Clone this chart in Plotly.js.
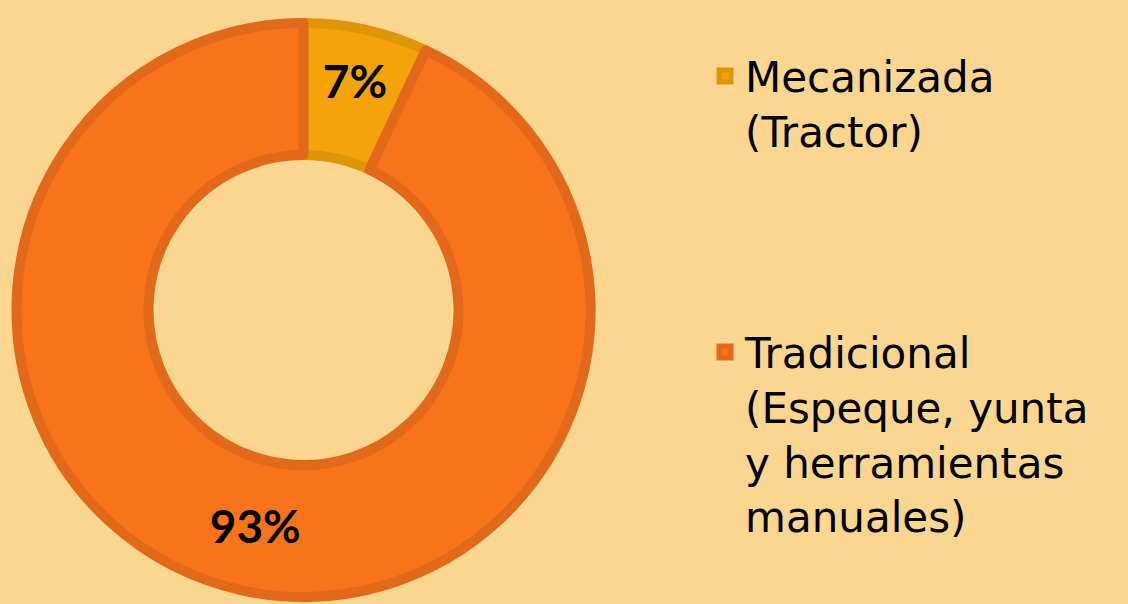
<!DOCTYPE html>
<html><head><meta charset="utf-8">
<script src="https://cdn.plot.ly/plotly-3.0.1.min.js"></script>
<style>html,body{margin:0;padding:0;background:#FAD691;}</style>
</head><body>
<div id="chart" style="width:1128px;height:604px;"></div>
<script>
const categories = ["Mecanizada<br>(Tractor)<br> <br> <br> ", "Tradicional<br>(Espeque, yunta<br>y herramientas<br>manuales)"];
const values = [7, 93];
const fillColors = ["#F4A30A", "#F8731A"];
const lineColors = ["#DE9508", "#E2681A"];

const data = [{
  type: "pie",
  labels: categories,
  values: values,
  hole: 0.54,
  sort: false,
  direction: "clockwise",
  rotation: 0,
  textinfo: "percent",
  texttemplate: "%{percent:.0%}",
  textposition: "inside",
  insidetextorientation: "horizontal",
  textfont: {family: "Lato, 'DejaVu Sans', sans-serif", size: 46, color: "#000", weight: "bold"},
  marker: {colors: fillColors, line: {color: lineColors, width: 10}},
  domain: {x: [15/1128, 592/1128], y: [7/604, 581/604]},
  hoverinfo: "label+percent"
}];

const layout = {
  width: 1128, height: 604,
  margin: {l: 0, r: 0, t: 0, b: 0},
  paper_bgcolor: "#FAD691",
  plot_bgcolor: "#FAD691",
  showlegend: true,
  legend: {
    x: 0.625, y: 0.93, xanchor: "left", yanchor: "top",
    valign: "top",
    font: {family: "'DejaVu Sans', sans-serif", size: 42, color: "#000"},
    bgcolor: "rgba(0,0,0,0)"
  }
};
Plotly.newPlot("chart", data, layout, {displayModeBar: false});
</script>
</body></html>
